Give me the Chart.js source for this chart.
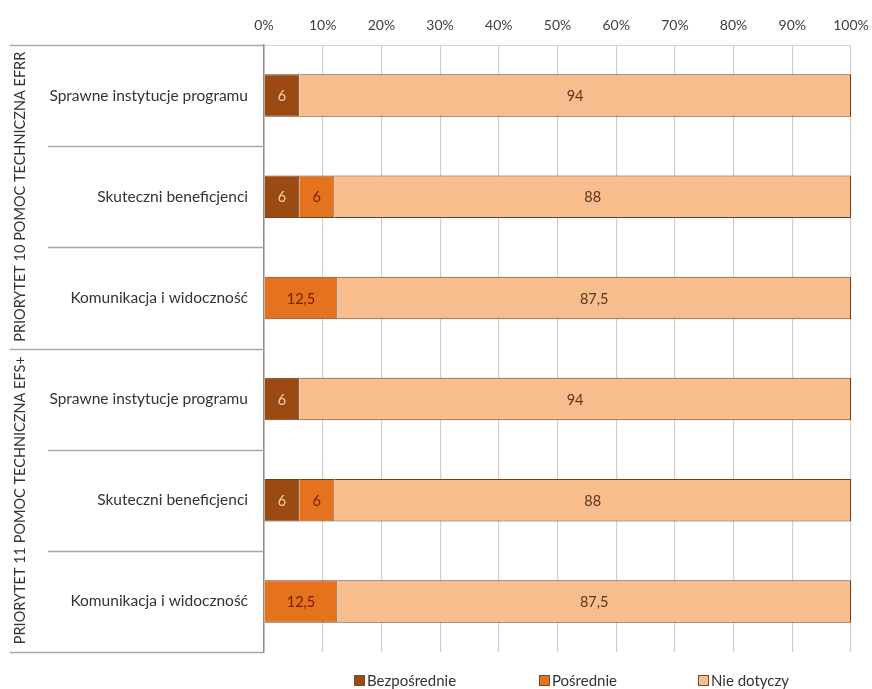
<!DOCTYPE html>
<html>
<head>
<meta charset="utf-8">
<script src="https://cdn.jsdelivr.net/npm/chart.js@4.4.1/dist/chart.umd.min.js"></script>
<style>
  html, body { margin: 0; padding: 0; background: #fff; }
</style>
</head>
<body>
<canvas id="c" width="872" height="689"></canvas>
<script>
const categories = [
  'Sprawne instytucje programu',
  'Skuteczni beneficjenci',
  'Komunikacja i widoczność',
  'Sprawne instytucje programu',
  'Skuteczni beneficjenci',
  'Komunikacja i widoczność'
];
const groups = ['PRIORYTET 10 POMOC TECHNICZNA EFRR', 'PRIORYTET 11 POMOC TECHNICZNA EFS+'];
const groupSize = 3;
const seriesNames = ['Bezpośrednie', 'Pośrednie', 'Nie dotyczy'];
const bezposrednie = [6, 6, null, 6, 6, null];
const posrednie = [null, 6, 12.5, null, 6, 12.5];
const nieDotyczy = [94, 88, 87.5, 94, 88, 87.5];

const fill = ['#9b4a12', '#e5721d', '#f8bd8c'];
const labelColor = ['#f7cfae', '#761c00', '#583620'];
const font = 'Lato, "Open Sans", sans-serif';

// value labels inside the bars
const barLabels = {
  id: 'barLabels',
  afterDatasetsDraw(chart) {
    const ctx = chart.ctx;
    ctx.save();
    ctx.font = '14.5px ' + font;
    ctx.textAlign = 'center';
    ctx.textBaseline = 'middle';
    chart.data.datasets.forEach((ds, i) => {
      chart.getDatasetMeta(i).data.forEach((bar, j) => {
        const v = ds.data[j];
        if (v == null) return;
        const p = bar.getCenterPoint();
        ctx.fillStyle = labelColor[i];
        ctx.fillText(String(v).replace('.', ','), p.x, p.y + 1);
      });
    });
    ctx.restore();
  }
};

// group labels, separators and legend
const extras = {
  id: 'extras',
  afterDraw(chart) {
    const ctx = chart.ctx;
    const area = chart.chartArea;
    const n = categories.length;
    const step = (area.bottom - area.top) / n;
    ctx.save();
    ctx.strokeStyle = '#a6a6a6';
    ctx.lineWidth = 1.5;
    for (let i = 0; i <= n; i++) {
      const y = Math.round(area.top + i * step) + 0.5;
      const x0 = (i % groupSize === 0) ? 10 : 48;
      ctx.beginPath();
      ctx.moveTo(x0, y);
      ctx.lineTo(area.left, y);
      ctx.stroke();
    }
    ctx.fillStyle = '#333';
    ctx.font = '14.5px ' + font;
    ctx.textAlign = 'center';
    ctx.textBaseline = 'middle';
    groups.forEach((g, k) => {
      const yc = area.top + (k * groupSize + groupSize / 2) * step;
      ctx.save();
      ctx.translate(20, yc);
      ctx.rotate(-Math.PI / 2);
      ctx.fillText(g, 0, 0);
      ctx.restore();
    });

    // legend
    const lx = [354, 539, 698];
    const ly = 680;
    ctx.textAlign = 'left';
    ctx.font = '15px ' + font;
    seriesNames.forEach((name, i) => {
      ctx.fillStyle = fill[i];
      ctx.fillRect(lx[i], ly - 5, 11, 11);
      ctx.strokeStyle = '#7a4a2a';
      ctx.lineWidth = 1;
      ctx.strokeRect(lx[i] + 0.5, ly - 4.5, 10, 10);
      ctx.fillStyle = '#333';
      ctx.fillText(name, lx[i] + 13, ly + 1);
    });
    ctx.restore();
  }
};

new Chart(document.getElementById('c'), {
  type: 'bar',
  data: {
    labels: categories,
    datasets: [
      { label: seriesNames[0], data: bezposrednie, backgroundColor: fill[0] },
      { label: seriesNames[1], data: posrednie, backgroundColor: fill[1] },
      { label: seriesNames[2], data: nieDotyczy, backgroundColor: fill[2] }
    ].map(d => Object.assign(d, {
      borderColor: '#6b3f22',
      borderWidth: 1,
      barPercentage: 0.42,
      categoryPercentage: 1
    }))
  },
  options: {
    indexAxis: 'y',
    responsive: false,
    animation: false,
    layout: { padding: { top: 0, left: 0, right: 21, bottom: 37 } },
    plugins: {
      legend: { display: false },
      tooltip: { enabled: false }
    },
    scales: {
      x: {
        position: 'top',
        stacked: true,
        min: 0,
        max: 100,
        afterFit(s) { s.height = 45; s.paddingRight = 0; s.paddingLeft = 0; },
        ticks: {
          stepSize: 10,
          padding: 11,
          color: '#404040',
          font: { family: font, size: 14 },
          callback: v => v + '%'
        },
        grid: { color: '#cfcfcf', lineWidth: 1.2, drawTicks: false },
        border: { color: '#d6d6d6', width: 1 }
      },
      y: {
        stacked: true,
        afterFit(s) { s.width = 264; },
        ticks: {
          padding: 16,
          color: '#333',
          font: { family: font, size: 15.5 }
        },
        grid: { display: false, drawTicks: false },
        border: { color: '#8a8a8a', width: 1.5 }
      }
    }
  },
  plugins: [barLabels, extras]
});
</script>
</body>
</html>
